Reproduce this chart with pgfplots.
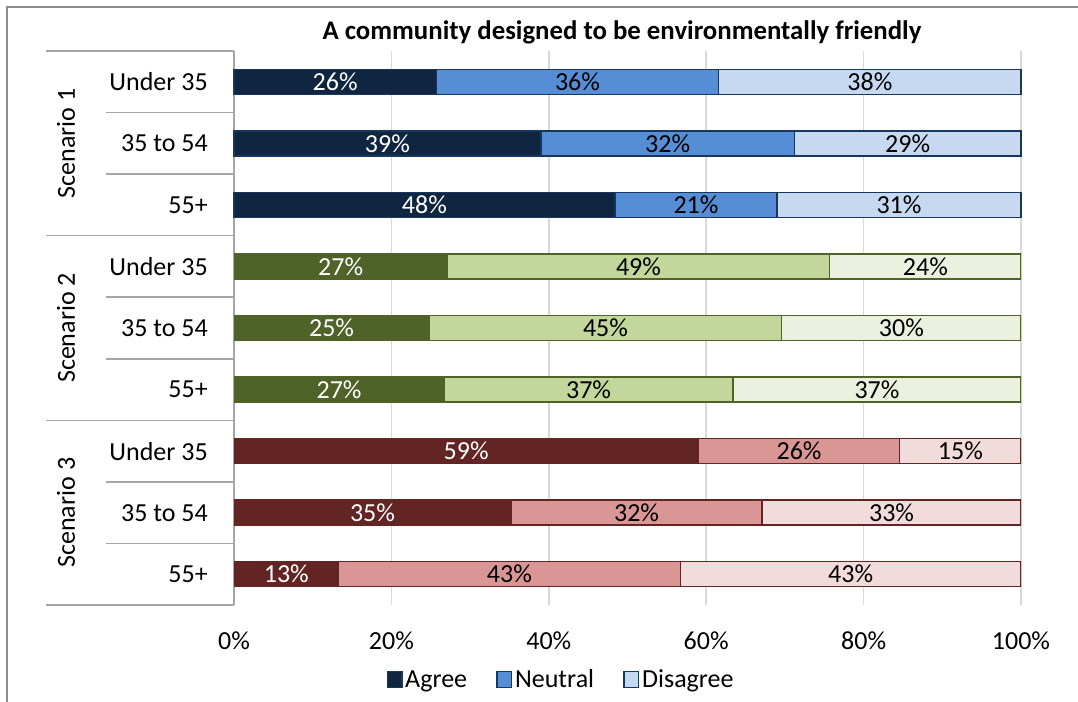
\documentclass[border=0pt]{standalone}
\usepackage{fontspec}
\setmainfont{Carlito}
\usepackage{pgfplots}
\usepackage{pgfplotstable}
\pgfplotsset{compat=1.18}

\definecolor{sAa}{HTML}{10253F}
\definecolor{sAn}{HTML}{558ED5}
\definecolor{sAd}{HTML}{C6D9F1}
\definecolor{sAb}{HTML}{17375E}
\definecolor{sBa}{HTML}{4F6228}
\definecolor{sBn}{HTML}{C3D69B}
\definecolor{sBd}{HTML}{EBF1DE}
\definecolor{sBb}{HTML}{4F6228}
\definecolor{sCa}{HTML}{632523}
\definecolor{sCn}{HTML}{D99694}
\definecolor{sCd}{HTML}{F2DCDB}
\definecolor{sCb}{HTML}{632523}
\definecolor{sepgray}{HTML}{A6A6A6}
\definecolor{gridgray}{HTML}{D9D9D9}
\definecolor{framegray}{HTML}{8C8C8C}

\pgfplotstableread{
y agree neutral disagree
0 25.7 35.9 38.4
1 39.0 32.2 28.8
2 48.4 20.6 31.0
}\sone
\pgfplotstableread{
y agree neutral disagree
3 27.1 48.6 24.3
4 24.8 44.8 30.4
5 26.7 36.7 36.6
}\stwo
\pgfplotstableread{
y agree neutral disagree
6 59.0 25.6 15.4
7 35.2 31.9 32.9
8 13.3 43.4 43.3
}\sthree

\newcommand\lbl{\fontsize{19.5}{22}\selectfont}

\pgfplotsset{
  base/.style={
    scale only axis, width=590.25pt, height=415.5pt,
    at={(175.5pt,-38.25pt)}, anchor=north west,
    xmin=0, xmax=100, ymin=-0.5, ymax=8.5, y dir=reverse,
  },
  stk/.style={base, xbar stacked, bar width=18.75pt},
  labs/.style={base, hide axis,
    point meta=explicit,
    /pgf/number format/assume math mode=true,
    nodes near coords={\pgfmathprintnumber[fixed,precision=0]{\pgfplotspointmeta}\%},
    every node near coord/.append style={anchor=center, font=\lbl, inner sep=0pt},
  },
}

\newcommand\labplots[1]{%
\addplot[draw=none, mark=none, every node near coord/.append style={text=white}]
  table[x expr=\thisrow{agree}/2, y=y, meta=agree]{#1};
\addplot[draw=none, mark=none, every node near coord/.append style={text=black}]
  table[x expr=\thisrow{agree}+\thisrow{neutral}/2, y=y, meta=neutral]{#1};
\addplot[draw=none, mark=none, every node near coord/.append style={text=black}]
  table[x expr=\thisrow{agree}+\thisrow{neutral}+\thisrow{disagree}/2, y=y, meta=disagree]{#1};
}

\begin{document}
\begin{tikzpicture}
\path[use as bounding box] (0,0) rectangle (808.5pt,-526.5pt);
\draw[framegray, line width=1pt] (5.25pt,-526.5pt) -- (5.25pt,-5.25pt) -- (808.5pt,-5.25pt);

\begin{axis}[stk,
  axis lines*=left, x axis line style={draw=none}, y axis line style={sepgray, line width=1.2pt},
  xtick={0,20,...,100}, xticklabels={0\%,20\%,40\%,60\%,80\%,100\%},
  ytick={0,...,8},
  yticklabels={Under 35,35 to 54,55+,Under 35,35 to 54,55+,Under 35,35 to 54,55+},
  major tick length=0pt,
  xmajorgrids, major grid style={gridgray, line width=1.2pt},
  tick label style={font=\lbl, inner sep=0pt},
  yticklabel style={anchor=east}, yticklabel shift=19.5pt,
  xticklabel style={anchor=north}, xticklabel shift=19.5pt,
  clip=false,
  legend style={at={(0.416,-0.135)}, anchor=center, draw=none, font=\lbl,
    legend columns=3, /tikz/every even column/.append style={column sep=20pt},
    inner sep=0pt, nodes={inner sep=2pt}},
  legend image code/.code={\draw[#1, line width=1pt] (0pt,-6pt) rectangle (11pt,6pt);},
]
\addplot[fill=sAa, draw=sAb, line width=1pt] table[x=agree,y=y]{\sone};
\addplot[fill=sAn, draw=sAb, line width=1pt] table[x=neutral,y=y]{\sone};
\addplot[fill=sAd, draw=sAb, line width=1pt] table[x=disagree,y=y]{\sone};
\legend{Agree,Neutral,Disagree}
\pgfplotsinvokeforeach{-0.5,2.5,5.5,8.5}{\draw[sepgray, line width=1.2pt] (axis cs:0,#1) -- ([xshift=-141pt]axis cs:0,#1);}
\pgfplotsinvokeforeach{0.5,1.5,3.5,4.5,6.5,7.5}{\draw[sepgray, line width=1.2pt] (axis cs:0,#1) -- ([xshift=-96pt]axis cs:0,#1);}
\node[rotate=90, font=\lbl] at ([xshift=-126pt]axis cs:0,1) {Scenario 1};
\node[rotate=90, font=\lbl] at ([xshift=-126pt]axis cs:0,4) {Scenario 2};
\node[rotate=90, font=\lbl] at ([xshift=-126pt]axis cs:0,7) {Scenario 3};
\end{axis}

\begin{axis}[stk, hide axis]
\addplot[fill=sBa, draw=sBb, line width=1pt] table[x=agree,y=y]{\stwo};
\addplot[fill=sBn, draw=sBb, line width=1pt] table[x=neutral,y=y]{\stwo};
\addplot[fill=sBd, draw=sBb, line width=1pt] table[x=disagree,y=y]{\stwo};
\end{axis}

\begin{axis}[stk, hide axis]
\addplot[fill=sCa, draw=sCb, line width=1pt] table[x=agree,y=y]{\sthree};
\addplot[fill=sCn, draw=sCb, line width=1pt] table[x=neutral,y=y]{\sthree};
\addplot[fill=sCd, draw=sCb, line width=1pt] table[x=disagree,y=y]{\sthree};
\end{axis}

\begin{axis}[labs]
\labplots{\sone}
\labplots{\stwo}
\labplots{\sthree}
\end{axis}

\node[font=\fontsize{20.1}{23}\selectfont\bfseries] at (466.5pt,-24.5pt) {A community designed to be environmentally friendly};
\end{tikzpicture}
\end{document}
